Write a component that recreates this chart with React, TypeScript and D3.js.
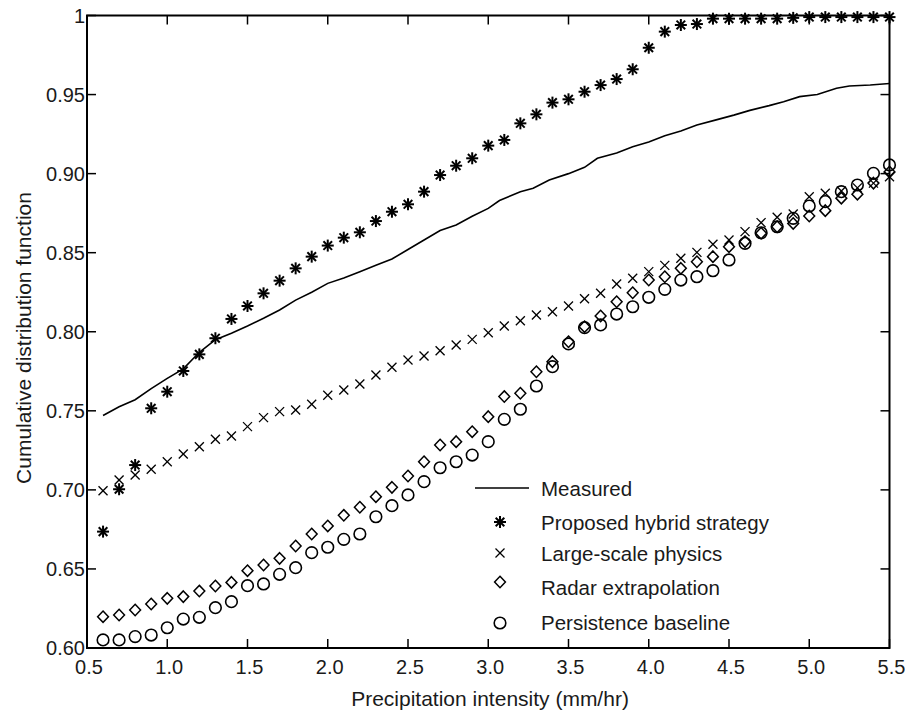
import React from "react";
import * as d3 from "d3";

const xCats = [0.6, 0.7, 0.8, 0.9, 1.0, 1.1, 1.2, 1.3, 1.4, 1.5, 1.6, 1.7, 1.8, 1.9, 2.0, 2.1, 2.2, 2.3, 2.4, 2.5, 2.6, 2.7, 2.8, 2.9, 3.0, 3.1, 3.2, 3.3, 3.4, 3.5, 3.6, 3.7, 3.8, 3.9, 4.0, 4.1, 4.2, 4.3, 4.4, 4.5, 4.6, 4.7, 4.8, 4.9, 5.0, 5.1, 5.2, 5.3, 5.4, 5.5];

const hybrid = [0.6736, 0.7004, 0.7157, 0.7516, 0.7621, 0.7752, 0.7857, 0.7959, 0.8081, 0.8163, 0.8243, 0.8323, 0.8401, 0.8475, 0.8545, 0.8595, 0.8629, 0.87, 0.8759, 0.8806, 0.8886, 0.8991, 0.905, 0.9097, 0.9177, 0.9213, 0.9318, 0.9375, 0.9449, 0.947, 0.9518, 0.956, 0.9598, 0.966, 0.9796, 0.9898, 0.994, 0.9946, 0.998, 0.998, 0.998, 0.998, 0.998, 0.9985, 0.999, 0.999, 0.999, 0.999, 0.999, 0.999];

const largeScale = [0.6995, 0.7062, 0.7094, 0.713, 0.7178, 0.7227, 0.7273, 0.732, 0.7341, 0.74, 0.7457, 0.7495, 0.7505, 0.7541, 0.7598, 0.7632, 0.767, 0.7727, 0.7775, 0.7821, 0.7847, 0.788, 0.7916, 0.7952, 0.7994, 0.8036, 0.807, 0.8106, 0.8127, 0.8163, 0.8209, 0.8243, 0.8302, 0.8338, 0.838, 0.842, 0.8465, 0.8502, 0.8553, 0.858, 0.8633, 0.869, 0.8724, 0.8745, 0.8854, 0.8876, 0.889, 0.891, 0.894, 0.898];

const radar = [0.6198, 0.6209, 0.624, 0.6278, 0.6314, 0.6325, 0.636, 0.6392, 0.6415, 0.6489, 0.6525, 0.6567, 0.6645, 0.6721, 0.6772, 0.6839, 0.689, 0.6957, 0.7016, 0.7088, 0.7178, 0.7284, 0.7305, 0.7368, 0.7463, 0.759, 0.7611, 0.7747, 0.7811, 0.7937, 0.8032, 0.81, 0.819, 0.8247, 0.8327, 0.8348, 0.8401, 0.8443, 0.8475, 0.8538, 0.857, 0.8623, 0.8664, 0.8685, 0.8732, 0.8766, 0.8845, 0.887, 0.894, 0.901];

const persistence = [0.6051, 0.6051, 0.6072, 0.6082, 0.6128, 0.6183, 0.6194, 0.6255, 0.6293, 0.6394, 0.6405, 0.6466, 0.6508, 0.6603, 0.6637, 0.6687, 0.6721, 0.683, 0.69, 0.6968, 0.7052, 0.714, 0.7178, 0.722, 0.7305, 0.7446, 0.751, 0.7657, 0.7779, 0.7923, 0.8026, 0.8043, 0.8112, 0.8158, 0.8218, 0.8268, 0.8327, 0.8348, 0.8386, 0.8454, 0.8559, 0.8626, 0.8664, 0.8717, 0.8795, 0.8823, 0.8886, 0.8928, 0.9002, 0.9055];

const measuredX = [0.6, 0.7, 0.8, 0.9, 1.0, 1.1, 1.2, 1.3, 1.4, 1.5, 1.6, 1.7, 1.8, 1.9, 2.0, 2.1, 2.2, 2.3, 2.4, 2.5, 2.6, 2.7, 2.8, 2.9, 3.0, 3.07, 3.2, 3.28, 3.38, 3.5, 3.6, 3.68, 3.8, 3.9, 4.0, 4.1, 4.2, 4.3, 4.42, 4.53, 4.63, 4.75, 4.84, 4.94, 5.05, 5.17, 5.25, 5.38, 5.5];
const measuredY = [0.747, 0.7526, 0.757, 0.764, 0.7705, 0.7765, 0.787, 0.795, 0.799, 0.8036, 0.8085, 0.8138, 0.82, 0.825, 0.8306, 0.834, 0.838, 0.842, 0.846, 0.852, 0.858, 0.864, 0.8675, 0.873, 0.878, 0.883, 0.8886, 0.8907, 0.896, 0.9, 0.904, 0.9097, 0.913, 0.917, 0.92, 0.924, 0.927, 0.9307, 0.934, 0.937, 0.94, 0.943, 0.9455, 0.9487, 0.95, 0.954, 0.9554, 0.956, 0.957];

const xTicks = [0.5, 1.0, 1.5, 2.0, 2.5, 3.0, 3.5, 4.0, 4.5, 5.0, 5.5];
const xTickLabels = ["0.5", "1.0", "1.5", "2.0", "2.5", "3.0", "3.5", "4.0", "4.5", "5.0", "5.5"];
const yTicks = [0.6, 0.65, 0.7, 0.75, 0.8, 0.85, 0.9, 0.95, 1.0];
const yTickLabels = ["0.60", "0.65", "0.70", "0.75", "0.80", "0.85", "0.90", "0.95", "1"];

const legendLabels = ["Measured", "Proposed hybrid strategy", "Large-scale physics", "Radar extrapolation", "Persistence baseline"];

const W = 905, H = 713;
const L = 87, R = 889.5, T = 15.5, B = 648;
const FONT = "'Liberation Sans', Arial, Helvetica, sans-serif";

function Star({ x, y, r = 6 }: { x: number; y: number; r?: number }) {
  const d = r * 0.72;
  return (
    <g stroke="#000" strokeWidth={2}>
      <line x1={x - r} y1={y} x2={x + r} y2={y} />
      <line x1={x} y1={y - r} x2={x} y2={y + r} />
      <line x1={x - d} y1={y - d} x2={x + d} y2={y + d} />
      <line x1={x - d} y1={y + d} x2={x + d} y2={y - d} />
    </g>
  );
}
function Cross({ x, y, r = 4.5 }: { x: number; y: number; r?: number }) {
  return (
    <g stroke="#000" strokeWidth={1.3}>
      <line x1={x - r} y1={y - r} x2={x + r} y2={y + r} />
      <line x1={x - r} y1={y + r} x2={x + r} y2={y - r} />
    </g>
  );
}
function Diamond({ x, y, r = 5.7 }: { x: number; y: number; r?: number }) {
  return (
    <path d={`M${x},${y - r}L${x + r * 0.95},${y}L${x},${y + r}L${x - r * 0.95},${y}Z`} fill="none" stroke="#000" strokeWidth={1.5} />
  );
}
function Circ({ x, y, r = 5.8 }: { x: number; y: number; r?: number }) {
  return <circle cx={x} cy={y} r={r} fill="none" stroke="#000" strokeWidth={1.6} />;
}

export default function App() {
  const xs = d3.scaleLinear().domain([0.5, 5.5]).range([L, R]);
  const ys = d3.scaleLinear().domain([0.6, 1.0]).range([B, T]);
  const line = d3.line<number>().x((_, i) => xs(measuredX[i])).y((v) => ys(v));
  const tickLen = 9;

  const legendRows = [488, 522, 553, 587, 622];
  const legendX = 500;

  return (
    <svg width={W} height={H} style={{ position: "absolute", left: 0, top: 0, background: "#fff" }} fontFamily={FONT}>
      <rect x={0} y={0} width={W} height={H} fill="#fff" />
      <g stroke="#000" strokeWidth={1.5}>
        {xTicks.map((t, i) => (
          <g key={"xt" + i}>
            <line x1={xs(t)} x2={xs(t)} y1={B} y2={B - tickLen} />
            <line x1={xs(t)} x2={xs(t)} y1={T} y2={T + tickLen} />
          </g>
        ))}
        {yTicks.map((t, i) => (
          <g key={"yt" + i}>
            <line x1={L} x2={L + tickLen} y1={ys(t)} y2={ys(t)} />
            <line x1={R} x2={R - tickLen} y1={ys(t)} y2={ys(t)} />
          </g>
        ))}
      </g>
      <rect x={L} y={T} width={R - L} height={B - T} fill="none" stroke="#000" strokeWidth={2} />
      <g fontSize={20} fill="#1a1a1a">
        {xTicks.map((t, i) => (
          <text key={"xl" + i} x={xs(t) + 2} y={667} textAnchor="middle" dominantBaseline="central">
            {xTickLabels[i]}
          </text>
        ))}
        {yTicks.map((t, i) => (
          <text key={"yl" + i} x={85} y={ys(t)} textAnchor="end" dominantBaseline="central">
            {yTickLabels[i]}
          </text>
        ))}
      </g>
      <text x={490} y={706} textAnchor="middle" fontSize={21} fill="#1a1a1a">
        Precipitation intensity (mm/hr)
      </text>
      <text transform={`translate(31,338) rotate(-90)`} textAnchor="middle" fontSize={21} fill="#1a1a1a">
        Cumulative distribution function
      </text>
      <path d={line(measuredY) || ""} fill="none" stroke="#000" strokeWidth={1.6} />
      {xCats.map((x, i) => (
        <Star key={"s" + i} x={xs(x)} y={ys(hybrid[i])} />
      ))}
      {xCats.map((x, i) => (
        <Cross key={"c" + i} x={xs(x)} y={ys(largeScale[i])} />
      ))}
      {xCats.map((x, i) => (
        <Diamond key={"d" + i} x={xs(x)} y={ys(radar[i])} />
      ))}
      {xCats.map((x, i) => (
        <Circ key={"o" + i} x={xs(x)} y={ys(persistence[i])} />
      ))}
      <line x1={475} x2={529} y1={legendRows[0]} y2={legendRows[0]} stroke="#000" strokeWidth={1.6} />
      <Star x={legendX} y={legendRows[1]} />
      <Cross x={legendX} y={legendRows[2]} />
      <Diamond x={legendX} y={legendRows[3] - 5} />
      <Circ x={legendX} y={legendRows[4] + 1} />
      <g fontSize={20.5} fill="#1a1a1a">
        {legendLabels.map((lab, i) => (
          <text key={"lg" + i} x={541} y={legendRows[i]} dominantBaseline="central">
            {lab}
          </text>
        ))}
      </g>
    </svg>
  );
}
